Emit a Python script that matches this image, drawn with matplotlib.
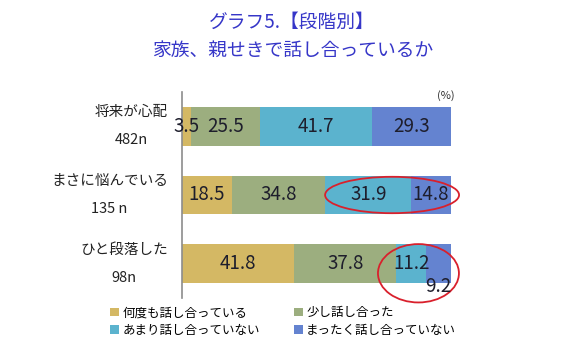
import numpy as np
import matplotlib.pyplot as plt
from matplotlib.patches import Ellipse

plt.rcParams['font.family'] = ['Noto Sans CJK JP', 'DejaVu Sans']

## data
groups = ['将来が心配\n482n', 'まさに悩んでいる\n135 n', 'ひと段落した\n98n']
series = ['何度も話し合っている', '少し話し合った', 'あまり話し合っていない', 'まったく話し合っていない']
often = [3.5, 18.5, 41.8]
little = [25.5, 34.8, 37.8]
rarely = [41.7, 31.9, 11.2]
never = [29.3, 14.8, 9.2]
colors = ['#D4B864', '#9CAE7F', '#5BB3CE', '#6483D0']

values = np.array([often, little, rarely, never])
y = np.arange(len(groups))

fig = plt.figure(figsize=(5.88, 3.57), dpi=100)
ax = fig.add_axes([0.3095, 0.1653, 0.4575, 0.577])

left = np.zeros(len(groups))
bars = []
for i in range(len(series)):
    b = ax.barh(y, values[i], left=left, height=0.56, color=colors[i], label=series[i])
    bars.append(b)
    for j in range(len(groups)):
        v = values[i][j]
        cx = left[j] + v / 2
        cy = y[j]
        # last small segment of the bottom bar: label under the bar
        if i == 3 and j == 2:
            cy = y[j] + 0.33
        ax.text(cx, cy, '%.1f' % v, ha='center', va='center', fontsize=13.5, color='#1E1E2C')
    left = left + values[i]

ax.set_xlim(0, 100)
ax.set_ylim(2.5, -0.5)
ax.set_yticks(y)
ax.set_yticklabels(groups, fontsize=10.5, linespacing=2.3, multialignment='center', color='#222222')
for lbl in ax.get_yticklabels():
    lbl.set_va('center')
ax.tick_params(axis='y', length=0, pad=10)
ax.set_xticks([])
for s in ['top', 'right', 'bottom']:
    ax.spines[s].set_visible(False)
ax.spines['left'].set_color('#8C8C8C')
ax.spines['left'].set_linewidth(1.2)

ax.text(1.015, 0.985, '(%)', transform=ax.transAxes, ha='right', va='center', fontsize=8, color='#333333')

# red ellipses
ax.add_patch(Ellipse((78.1, 1.0), 49.8, 0.53, fill=False, edgecolor='#D9202C', linewidth=1.3, clip_on=False))
ax.add_patch(Ellipse((87.9, 2.14), 30.1, 0.85, fill=False, edgecolor='#D9202C', linewidth=1.3, clip_on=False))

fig.text(0.497, 1 - 22 / 357, 'グラフ5.【段階別】', ha='center', va='center', fontsize=13.5, color='#3636C8')
fig.text(0.497, 1 - 50 / 357, '家族、親せきで話し合っているか', ha='center', va='center', fontsize=13.5, color='#3636C8')

order = [0, 2, 1, 3]
handles = [bars[k] for k in order]
labels = [series[k] for k in order]
fig.legend(handles, labels, loc='center left', bbox_to_anchor=(110 / 588, 1 - 321.5 / 357), ncol=2,
           frameon=False, fontsize=9, handlelength=0.7, handleheight=0.7, handletextpad=0.3,
           columnspacing=2.7, labelspacing=0.35, borderpad=0, borderaxespad=0)

fig.savefig('out.png', dpi=100)
